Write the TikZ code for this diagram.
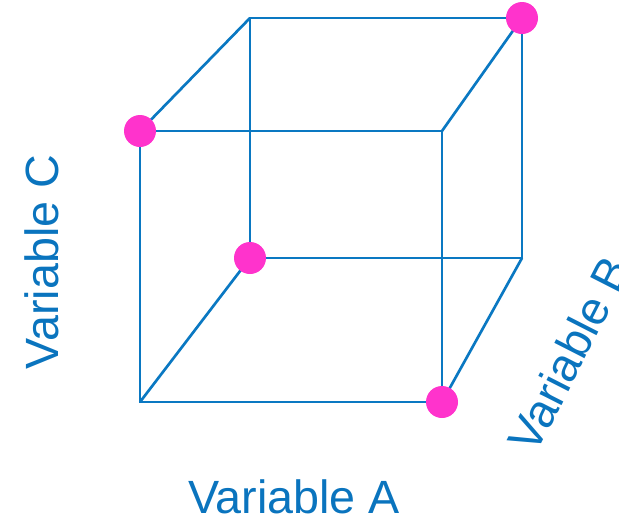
\documentclass[tikz,border=0pt]{standalone}
\usepackage{fontspec}
\setmainfont{Liberation Sans}
\definecolor{edgeblue}{HTML}{0A78C2}
\definecolor{textblue}{HTML}{0A74BE}
\definecolor{dotpink}{HTML}{FF33CC}
\begin{document}
\begin{tikzpicture}[x=0.75pt,y=-0.75pt,
  edge/.style={draw=edgeblue,line width=2pt},
  dot/.style={circle,fill=dotpink,inner sep=0pt,minimum size=24pt},
  lbl/.style={text=textblue,font=\fontsize{35}{42}\selectfont,inner sep=0pt}]
\useasboundingbox (0,0) rectangle (619,522);
\clip (0,0) rectangle (619,522);
% front face
\coordinate (ftl) at (140,131);
\coordinate (ftr) at (442,131);
\coordinate (fbr) at (442,402);
\coordinate (fbl) at (140,402);
% back face
\coordinate (btl) at (250,18);
\coordinate (btr) at (522,18);
\coordinate (bbr) at (522,258);
\coordinate (bbl) at (250,258);
\draw[edge] (ftl) -- (ftr) -- (fbr) -- (fbl) -- cycle;
\draw[edge] (btl) -- (btr) -- (bbr) -- (bbl) -- cycle;
\draw[edge] (ftl) -- (btl);
\draw[edge] (ftr) -- (btr);
\draw[edge] (fbr) -- (bbr);
\draw[edge] (fbl) -- (bbl);
\node[dot] (d1) at (ftl) {};
\node[dot] (d2) at (btr) {};
\node[dot] (d3) at (bbl) {};
\node[dot] (d4) at (fbr) {};
\node[lbl,anchor=base] (la) at (294,513) {Variable A};
\node[lbl,anchor=base,rotate=90] (lc) at (58,262) {Variable C};
\node[lbl,anchor=center,rotate=63] (lb) at (569,354) {Variable B};
\end{tikzpicture}
\end{document}
